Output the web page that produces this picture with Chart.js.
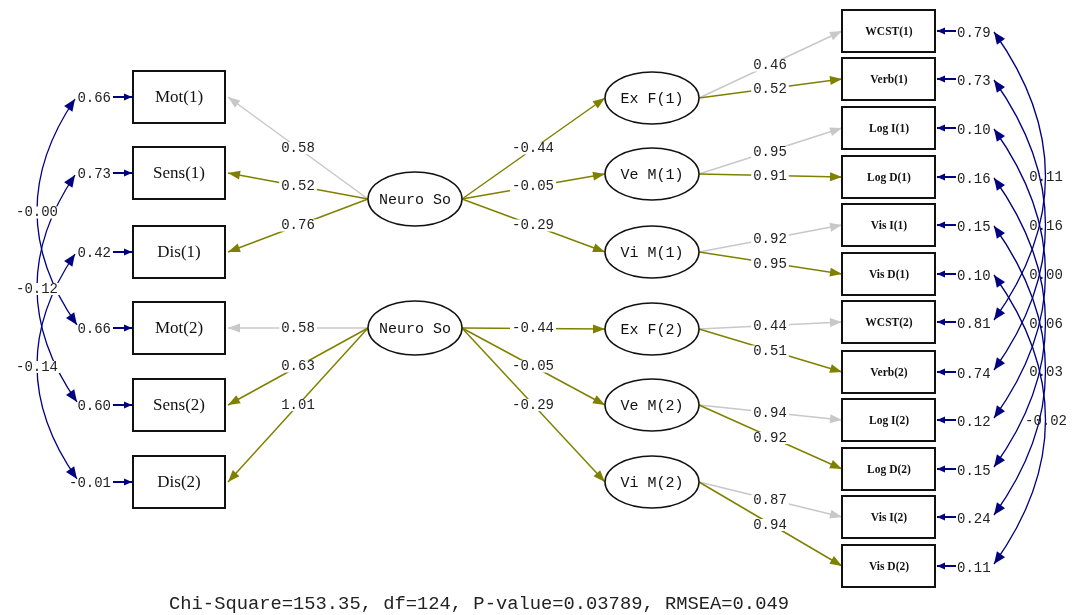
<!DOCTYPE html>
<html>
<head>
<meta charset="utf-8">
<script src="https://cdn.jsdelivr.net/npm/chart.js@4.4.1/dist/chart.umd.min.js"></script>
<style>
  html, body { margin: 0; padding: 0; background: #fff; }
  #wrap { width: 1077px; height: 615px; }
</style>
</head>
<body>
<div id="wrap"><canvas id="sem" width="1077" height="615"></canvas></div>
<script>
// --- 推定値 ---
const leftVars = ['Mot(1)', 'Sens(1)', 'Dis(1)', 'Mot(2)', 'Sens(2)', 'Dis(2)'];
const leftLoadings = ['0.58', '0.52', '0.76', '0.58', '0.63', '1.01'];
const leftFixed = [true, false, false, true, false, false];
const leftErrors = ['0.66', '0.73', '0.42', '0.66', '0.60', '-0.01'];
const leftCov = ['-0.00', '-0.12', '-0.14'];

const neuroName = 'Neuro So';
const latentNames = ['Ex F(1)', 'Ve M(1)', 'Vi M(1)', 'Ex F(2)', 'Ve M(2)', 'Vi M(2)'];
const latentPaths = ['-0.44', '-0.05', '-0.29', '-0.44', '-0.05', '-0.29'];

const rightVars = ['WCST(1)', 'Verb(1)', 'Log I(1)', 'Log D(1)', 'Vis I(1)', 'Vis D(1)',
                   'WCST(2)', 'Verb(2)', 'Log I(2)', 'Log D(2)', 'Vis I(2)', 'Vis D(2)'];
const rightLoadings = ['0.46', '0.52', '0.95', '0.91', '0.92', '0.95',
                       '0.44', '0.51', '0.94', '0.92', '0.87', '0.94'];
const rightFixed = [true, false, true, false, true, false, true, false, true, false, true, false];
const rightErrors = ['0.79', '0.73', '0.10', '0.16', '0.15', '0.10',
                     '0.81', '0.74', '0.12', '0.15', '0.24', '0.11'];
const rightCov = ['0.11', '0.16', '0.00', '0.06', '0.03', '-0.02'];

const fitText = 'Chi-Square=153.35, df=124, P-value=0.03789, RMSEA=0.049';

// --- 配置（グラフ座標） ---
const leftRowY = [97, 173, 252, 328, 405, 482];
const neuroRowY = [199, 328];
const latentRowY = [98, 174, 252, 329, 405, 482];
const rightRowY = [31, 79, 128, 177, 225, 274, 322, 372, 420, 469, 517, 566];

const OLIVE = '#808000';
const GREY = '#c8c8c8';
const NAVY = '#000080';

// 矢印の先端（三角形）
function head(ctx, x, y, dx, dy, len, w, color) {
    const d = Math.hypot(dx, dy);
    const ux = dx / d, uy = dy / d;
    ctx.fillStyle = color;
    ctx.beginPath();
    ctx.moveTo(x, y);
    ctx.lineTo(x - ux * len - uy * w, y - uy * len + ux * w);
    ctx.lineTo(x - ux * len + uy * w, y - uy * len - ux * w);
    ctx.closePath();
    ctx.fill();
}

function arrow(ctx, x1, y1, x2, y2, color, lw, len, w) {
    ctx.strokeStyle = color;
    ctx.lineWidth = lw;
    ctx.beginPath();
    ctx.moveTo(x1, y1);
    ctx.lineTo(x2, y2);
    ctx.stroke();
    head(ctx, x2, y2, x2 - x1, y2 - y1, len, w, color);
}

// 白抜きラベル（線を切る）
function tag(ctx, text, x, y, font, color, bg) {
    ctx.font = font;
    ctx.textAlign = 'center';
    ctx.textBaseline = 'middle';
    if (bg) {
        const tw = ctx.measureText(text).width;
        ctx.fillStyle = '#fff';
        ctx.fillRect(x - tw / 2 - 2, y - 6, tw + 4, 12);
    }
    ctx.fillStyle = color;
    ctx.fillText(text, x, y);
}

// 共分散の弧（両端に矢印）
function covArc(ctx, x0, y0, x2, y2, cx, cy) {
    ctx.strokeStyle = NAVY;
    ctx.lineWidth = 1.3;
    ctx.beginPath();
    ctx.moveTo(x0, y0);
    ctx.quadraticCurveTo(cx, cy, x2, y2);
    ctx.stroke();
    head(ctx, x0, y0, x0 - cx, y0 - cy, 12, 5, NAVY);
    head(ctx, x2, y2, x2 - cx, y2 - cy, 12, 5, NAVY);
}

const semPlugin = {
    id: 'semDiagram',
    afterDatasetsDraw(chart) {
        const ctx = chart.ctx;
        const X = v => chart.scales.x.getPixelForValue(v);
        const Y = v => chart.scales.y.getPixelForValue(v);
        const labelFont = '14px "Liberation Mono", monospace';
        ctx.save();

        // 左側の誤差共分散
        leftCov.forEach((c, i) => {
            const a = leftRowY[i], b = leftRowY[i + 3];
            covArc(ctx, X(75), Y(a + 2), X(77), Y(b - 3), X(-2), Y((a + b) / 2));
        });
        // 右側の誤差共分散
        rightCov.forEach((c, i) => {
            const a = rightRowY[i], b = rightRowY[i + 6];
            covArc(ctx, X(994), Y(a + 1), X(994), Y(b - 2), X(1097), Y((a + b) / 2));
        });

        // Neuro So -> 左の観測変数
        leftVars.forEach((v, i) => {
            const ny = neuroRowY[Math.floor(i / 3)];
            const col = leftFixed[i] ? GREY : OLIVE;
            arrow(ctx, X(368), Y(ny), X(228), Y(leftRowY[i]), col, 1.5, 12, 4.5);
        });
        // Neuro So -> 潜在変数
        latentNames.forEach((v, i) => {
            const ny = neuroRowY[Math.floor(i / 3)];
            arrow(ctx, X(462), Y(ny), X(605), Y(latentRowY[i]), OLIVE, 1.5, 12, 4.5);
        });
        // 潜在変数 -> 右の観測変数
        rightVars.forEach((v, i) => {
            const ly = latentRowY[Math.floor(i / 2)];
            const col = rightFixed[i] ? GREY : OLIVE;
            arrow(ctx, X(699), Y(ly), X(842), Y(rightRowY[i]), col, 1.5, 12, 4.5);
        });

        // パス係数ラベル
        leftLoadings.forEach((t, i) => {
            const ny = neuroRowY[Math.floor(i / 3)];
            tag(ctx, t, X(298), Y((ny + leftRowY[i]) / 2), labelFont, '#222', true);
        });
        latentPaths.forEach((t, i) => {
            const ny = neuroRowY[Math.floor(i / 3)];
            tag(ctx, t, X(533), Y((ny + latentRowY[i]) / 2), labelFont, '#222', true);
        });
        rightLoadings.forEach((t, i) => {
            const ly = latentRowY[Math.floor(i / 2)];
            tag(ctx, t, X(770), Y((ly + rightRowY[i]) / 2 + 1), labelFont, '#222', true);
        });

        // 四角（観測変数）
        ctx.lineWidth = 2;
        ctx.strokeStyle = '#111';
        leftVars.forEach((v, i) => {
            const y = leftRowY[i];
            ctx.fillStyle = '#fff';
            ctx.fillRect(X(133), Y(y - 26), X(225) - X(133), Y(y + 26) - Y(y - 26));
            ctx.strokeRect(X(133), Y(y - 26), X(225) - X(133), Y(y + 26) - Y(y - 26));
            tag(ctx, v, X(179), Y(y + 1), '17px "Liberation Serif", serif', '#111', false);
        });
        rightVars.forEach((v, i) => {
            const y = rightRowY[i];
            ctx.fillStyle = '#fff';
            ctx.fillRect(X(842), Y(y - 21), X(935) - X(842), Y(y + 21) - Y(y - 21));
            ctx.strokeRect(X(842), Y(y - 21), X(935) - X(842), Y(y + 21) - Y(y - 21));
            tag(ctx, v, X(889), Y(y + 1), 'bold 11.5px "Liberation Serif", serif', '#111', false);
        });

        // 楕円（潜在変数）
        const ellipse = (cx, cy, rx, ry, text) => {
            ctx.beginPath();
            ctx.ellipse(X(cx), Y(cy), rx, ry, 0, 0, Math.PI * 2);
            ctx.fillStyle = '#fff';
            ctx.fill();
            ctx.lineWidth = 1.5;
            ctx.strokeStyle = '#111';
            ctx.stroke();
            tag(ctx, text, X(cx), Y(cy + 1), '15px "Liberation Mono", monospace', '#111', false);
        };
        neuroRowY.forEach(y => ellipse(415, y, 47, 27, neuroName));
        latentNames.forEach((n, i) => ellipse(652, latentRowY[i], 47, 26, n));

        // 誤差分散
        leftErrors.forEach((t, i) => {
            const y = leftRowY[i];
            arrow(ctx, X(113), Y(y), X(132), Y(y), NAVY, 2, 8, 3.5);
            ctx.font = labelFont;
            ctx.textAlign = 'right';
            ctx.textBaseline = 'middle';
            ctx.fillStyle = '#222';
            ctx.fillText(t, X(111), Y(y + 1));
        });
        rightErrors.forEach((t, i) => {
            const y = rightRowY[i];
            arrow(ctx, X(956), Y(y), X(937), Y(y), NAVY, 2, 8, 3.5);
            ctx.font = labelFont;
            ctx.textAlign = 'left';
            ctx.textBaseline = 'middle';
            ctx.fillStyle = '#222';
            ctx.fillText(t, X(957), Y(y + 2));
        });

        // 共分散ラベル
        leftCov.forEach((t, i) => {
            const a = leftRowY[i], b = leftRowY[i + 3];
            tag(ctx, t, X(37), Y((a + b) / 2), labelFont, '#222', true);
        });
        rightCov.forEach((t, i) => {
            const a = rightRowY[i], b = rightRowY[i + 6];
            tag(ctx, t, X(1046), Y((a + b) / 2 + 1), labelFont, '#222', false);
        });

        // 適合度
        tag(ctx, fitText, X(479), Y(604), '18.8px "Liberation Mono", monospace', '#222', false);
        ctx.restore();
    }
};

// ノード中心を散布図として置く（点は非表示）
const nodePoints = []
    .concat(leftRowY.map(y => ({ x: 179, y: y })))
    .concat(neuroRowY.map(y => ({ x: 415, y: y })))
    .concat(latentRowY.map(y => ({ x: 652, y: y })))
    .concat(rightRowY.map(y => ({ x: 889, y: y })));

new Chart(document.getElementById('sem').getContext('2d'), {
    type: 'scatter',
    data: {
        datasets: [{ label: 'nodes', data: nodePoints, pointRadius: 0, pointHoverRadius: 0 }]
    },
    options: {
        responsive: false,
        animation: false,
        events: [],
        layout: { padding: 0 },
        scales: {
            x: { type: 'linear', min: 0, max: 1077, display: false },
            y: { type: 'linear', min: 0, max: 615, reverse: true, display: false }
        },
        plugins: { legend: { display: false }, tooltip: { enabled: false } }
    },
    plugins: [semPlugin]
});
</script>
</body>
</html>
